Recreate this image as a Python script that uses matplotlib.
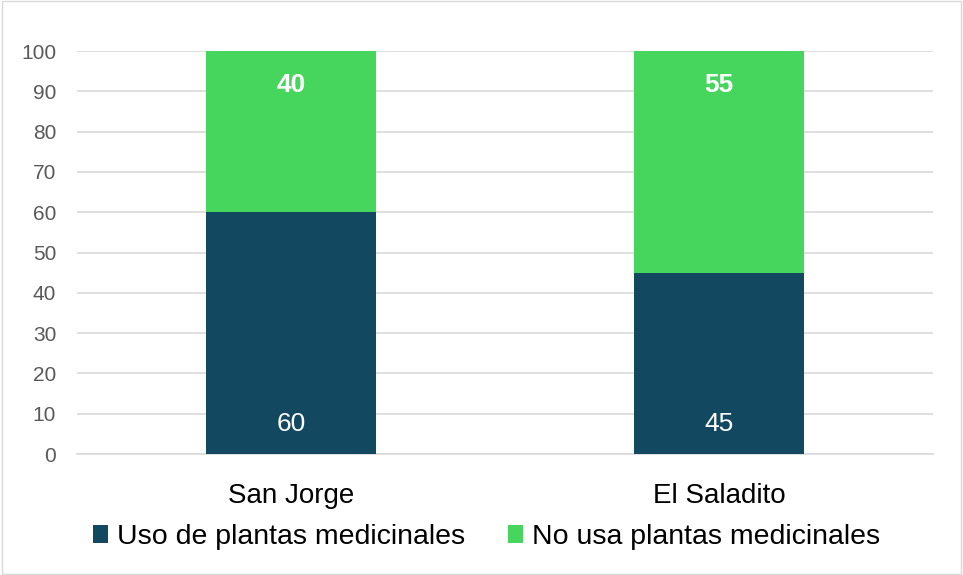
import matplotlib.pyplot as plt
import numpy as np

plt.rcParams['font.family'] = ['Liberation Sans', 'DejaVu Sans']

categories = ['San Jorge', 'El Saladito']
uso = [60, 45]
no_usa = [40, 55]
yticks = list(range(0, 101, 10))

dark = '#134861'
green = '#47D65D'

fig = plt.figure(figsize=(9.63, 5.75), dpi=100)
ax = fig.add_axes([0.080, 0.2104, 0.889, 0.7009])

x = np.arange(len(categories))
ax.bar(x, uso, width=0.397, color=dark, label='Uso de plantas medicinales', zorder=3)
ax.bar(x, no_usa, width=0.397, bottom=uso, color=green, label='No usa plantas medicinales', zorder=3)

for xi, v in zip(x, uso):
    ax.text(xi, 7.5, str(v), ha='center', va='center', color='white', fontsize=19, zorder=4)
for xi, v in zip(x, no_usa):
    ax.text(xi, 91.5, str(v), ha='center', va='center', color='white', fontsize=19,
            fontweight='bold', zorder=4)

ax.set_xlim(-0.5, 1.5)
ax.set_ylim(0, 100)
ax.set_yticks(yticks)
ax.set_xticks(x)
ax.set_xticklabels(categories, fontsize=20)
ax.tick_params(axis='y', labelsize=15, labelcolor='#595959', length=0, pad=15)
ax.tick_params(axis='x', length=0, pad=21)
ax.grid(axis='y', color='#d9d9d9', linewidth=1.2, zorder=0)
for s in ['top', 'right', 'left']:
    ax.spines[s].set_visible(False)
ax.spines['bottom'].set_color('#d9d9d9')
ax.spines['bottom'].set_linewidth(1.2)

fig.legend(loc='center', bbox_to_anchor=(0.505, 0.066), ncol=2, frameon=False,
           fontsize=20.5, handlelength=0.55, handleheight=0.55, handletextpad=0.3,
           columnspacing=1.5)

border = plt.Rectangle((0.002, 0.002), 0.996, 0.996, transform=fig.transFigure,
                       fill=False, edgecolor='#d9d9d9', linewidth=1)
fig.patches.append(border)

fig.savefig('out.png', dpi=100)
